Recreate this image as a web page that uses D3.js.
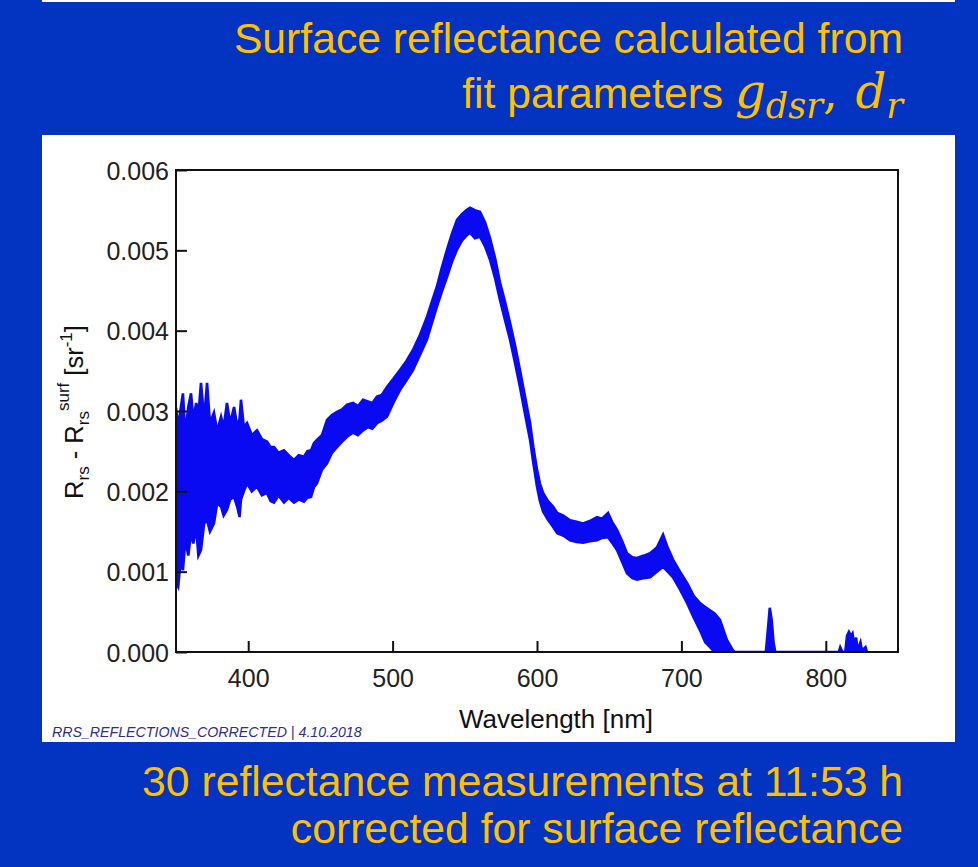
<!DOCTYPE html>
<html>
<head>
<meta charset="utf-8">
<script src="https://cdn.jsdelivr.net/npm/d3@7"></script>
<style>
  body { margin: 0; background: #0233c1; }
  svg { display: block; }
</style>
</head>
<body>
<svg id="chart" width="978" height="867"></svg>
<script>
// wavelength samples [nm] and the upper / lower envelope of the 30 spectra [sr^-1]
var wavelengths = [350, 351.5, 353, 354.8, 356.5, 358.5, 360.4, 362, 364, 365.5, 367.3, 369.5, 371.5, 373.5,
  376.3, 378.5, 381.2, 383, 385.3, 387.5, 390.2, 392.5, 394, 395, 397, 399.2, 402.5, 406.1, 409.5, 413,
  415.5, 417.9, 421, 424.8, 428, 431.7, 435, 438.6, 441, 443.5, 445.5, 447.6, 451.1, 454.6, 458, 461.5,
  465, 468.5, 472.6, 476, 479.5, 483, 486, 489.2, 492.5, 496.1, 500.5, 505.1, 509.5, 514.1, 519, 523.8,
  527, 530.7, 534, 537.7, 541, 544.6, 548, 551, 553.6, 557, 560.5, 564, 567.5, 571, 574.4, 578, 581.3,
  585, 588.2, 591.5, 595.2, 597.5, 600, 602, 604.2, 607.5, 611.1, 614, 618, 622.9, 627.5, 631.9, 636.5,
  641.6, 645, 649.2, 652, 655.4, 659, 662.3, 666, 669.3, 674, 678.3, 683, 687.3, 690.5, 694.2, 699,
  703.9, 708.5, 712.9, 716.5, 719.8, 723, 726.7, 731.5, 735.7, 737, 758.5, 760, 761.2, 762.5, 763.8,
  765, 809, 810, 811.5, 813.5, 814.7, 816, 817.5, 818.5, 819.8, 821, 822, 824, 825, 827.5, 828.5];

var upperValues = [0.00304, 0.00280, 0.00300, 0.00322, 0.00270, 0.00305, 0.00322, 0.00290, 0.00310, 0.00295,
  0.00335, 0.00290, 0.00335, 0.00285, 0.00298, 0.00275, 0.00293, 0.00280, 0.00310, 0.00285, 0.00305,
  0.00280, 0.00290, 0.00314, 0.00280, 0.00285, 0.00270, 0.00276, 0.00265, 0.00262, 0.00255, 0.00255,
  0.00248, 0.00251, 0.00245, 0.00239, 0.00245, 0.00243, 0.00250, 0.00251, 0.00260, 0.00264, 0.00270,
  0.00289, 0.00295, 0.00299, 0.00302, 0.00308, 0.00310, 0.00306, 0.00314, 0.00312, 0.00310, 0.00318,
  0.00320, 0.00330, 0.00340, 0.00351, 0.00362, 0.00376, 0.00395, 0.00417, 0.00435, 0.00455, 0.00478,
  0.00501, 0.00520, 0.00538, 0.00545, 0.00550, 0.00553, 0.00550, 0.00548, 0.00535, 0.00515, 0.00490,
  0.00460, 0.00435, 0.00410, 0.00380, 0.00351, 0.00320, 0.00285, 0.00255, 0.00227, 0.00210, 0.00198,
  0.00188, 0.00181, 0.00173, 0.00170, 0.00164, 0.00162, 0.00160, 0.00163, 0.00168, 0.00166, 0.00173,
  0.00162, 0.00152, 0.00138, 0.00123, 0.00118, 0.00117, 0.00120, 0.00123, 0.00130, 0.00146, 0.00130,
  0.00115, 0.00100, 0.00086, 0.00070, 0.00061, 0.00056, 0.00052, 0.00048, 0.00040, 0.00015, 0.00002,
  0, 0, 0.00030, 0.00055, 0.00040, 0.00012, 0, 0, 0.00006, 0, 0, 0.00020, 0.00025, 0.00020, 0.00023,
  0.00008, 0.00018, 0.00002, 0.00012, 0.00002, 0.00006, 0];

var lowerValues = [0.00086, 0.00081, 0.00110, 0.00102, 0.00140, 0.00120, 0.00148, 0.00135, 0.00155, 0.00120,
  0.00127, 0.00160, 0.00164, 0.00150, 0.00160, 0.00185, 0.00181, 0.00170, 0.00177, 0.00190, 0.00193,
  0.00180, 0.00168, 0.00190, 0.00200, 0.00210, 0.00200, 0.00206, 0.00195, 0.00198, 0.00188, 0.00186,
  0.00195, 0.00186, 0.00192, 0.00186, 0.00190, 0.00187, 0.00192, 0.00193, 0.00205, 0.00210, 0.00227,
  0.00235, 0.00248, 0.00255, 0.00262, 0.00268, 0.00273, 0.00270, 0.00276, 0.00280, 0.00278, 0.00285,
  0.00288, 0.00293, 0.00310, 0.00326, 0.00338, 0.00351, 0.00370, 0.00389, 0.00408, 0.00430, 0.00448,
  0.00467, 0.00485, 0.00501, 0.00512, 0.00518, 0.00522, 0.00515, 0.00517, 0.00505, 0.00488, 0.00465,
  0.00438, 0.00412, 0.00389, 0.00358, 0.00330, 0.00298, 0.00264, 0.00235, 0.00206, 0.00188, 0.00175,
  0.00165, 0.00156, 0.00148, 0.00145, 0.00139, 0.00137, 0.00136, 0.00138, 0.00139, 0.00142, 0.00143,
  0.00136, 0.00127, 0.00112, 0.00098, 0.00092, 0.00090, 0.00092, 0.00093, 0.00100, 0.00106, 0.00100,
  0.00093, 0.00078, 0.00061, 0.00043, 0.00027, 0.00012, 0.00006, 0, 0, 0, 0,
  0, 0, 0, 0, 0, 0, 0, 0, 0, 0, 0, 0, 0, 0, 0,
  0, 0, 0, 0, 0, 0, 0];

var xTicks = [400, 500, 600, 700, 800];
var yTicks = [0, 0.001, 0.002, 0.003, 0.004, 0.005, 0.006];

var spectra = wavelengths.map(function (w, i) {
  return { wl: w, hi: upperValues[i], lo: lowerValues[i] };
});

var svg = d3.select("#chart");
var gold = "#ffc000";
var sans = "'Liberation Sans', Arial, sans-serif";
var mathFont = "'DejaVu Serif', serif";

var dimensions = {
  width: 978,
  height: 867,
  margin: { top: 170, right: 80, bottom: 215, left: 176 },
};
dimensions.boundedWidth = dimensions.width - dimensions.margin.left - dimensions.margin.right;
dimensions.boundedHeight = dimensions.height - dimensions.margin.top - dimensions.margin.bottom;

// white strip at the top and the white chart panel
svg.append("rect").attr("x", 42).attr("y", 0).attr("width", 913).attr("height", 2).attr("fill", "#fff");
svg.append("rect").attr("x", 42).attr("y", 135).attr("width", 913).attr("height", 607).attr("fill", "#fff");

// titles
svg.append("text")
  .attr("x", 903).attr("y", 53)
  .attr("text-anchor", "end")
  .style("font", "42.7px " + sans)
  .attr("fill", gold)
  .text("Surface reflectance calculated from");

var sub = svg.append("text")
  .attr("x", 903).attr("y", 108)
  .attr("text-anchor", "end")
  .style("font", "42.7px " + sans)
  .attr("fill", gold);
sub.append("tspan").text("fit parameters ");
sub.append("tspan").style("font", "italic 48px " + mathFont).text("g");
sub.append("tspan").style("font", "italic 35px " + mathFont).attr("dy", 10).text("dsr");
sub.append("tspan").style("font", "46px " + mathFont).attr("dy", -10).text(",");
sub.append("tspan").style("font", "italic 48px " + mathFont).attr("dx", 18).text("d");
sub.append("tspan").style("font", "italic 35px " + mathFont).attr("dy", 10).text("r");

svg.append("text")
  .attr("x", 903).attr("y", 796)
  .attr("text-anchor", "end")
  .style("font", "42.7px " + sans)
  .attr("fill", gold)
  .text("30 reflectance measurements at 11:53 h");

svg.append("text")
  .attr("x", 903).attr("y", 843)
  .attr("text-anchor", "end")
  .style("font", "42.7px " + sans)
  .attr("fill", gold)
  .text("corrected for surface reflectance");

// scales
var xScale = d3.scaleLinear().domain([350, 850]).range([0, dimensions.boundedWidth]);
var yScale = d3.scaleLinear().domain([0, 0.006]).range([dimensions.boundedHeight, 0]);

var bounds = svg.append("g")
  .attr("transform", "translate(" + dimensions.margin.left + "," + dimensions.margin.top + ")");

// keep the band stroke from bleeding over the x axis line
bounds.append("clipPath").attr("id", "plotClip")
  .append("rect")
  .attr("x", 0).attr("y", 0)
  .attr("width", dimensions.boundedWidth).attr("height", dimensions.boundedHeight - 1);

// band of the 30 spectra
var band = d3.area()
  .x(function (d) { return xScale(d.wl); })
  .y0(function (d) { return yScale(d.lo); })
  .y1(function (d) { return yScale(d.hi); });

bounds.append("path")
  .datum(spectra)
  .attr("clip-path", "url(#plotClip)")
  .attr("d", band)
  .attr("fill", "#0a0af2")
  .attr("stroke", "#0a0af2")
  .attr("stroke-width", 2.6)
  .attr("stroke-linejoin", "miter");

// axes, ticks pointing inwards
var xAxis = d3.axisBottom(xScale).tickValues(xTicks).tickSize(-11).tickSizeOuter(0).tickPadding(17);
var yAxis = d3.axisLeft(yScale).tickValues(yTicks).tickSize(-11).tickSizeOuter(0).tickPadding(7)
  .tickFormat(d3.format(".3f"));

var gx = bounds.append("g")
  .attr("transform", "translate(0," + dimensions.boundedHeight + ")")
  .call(xAxis);
var gy = bounds.append("g").call(yAxis);

[gx, gy].forEach(function (g) {
  g.select(".domain").remove();
  g.selectAll(".tick line").attr("stroke", "#111").attr("stroke-width", 2);
  g.selectAll(".tick text")
    .attr("fill", "#222")
    .style("font", "25px " + sans);
});
gy.selectAll(".tick text").attr("dy", "0.36em");

// frame
bounds.append("rect")
  .attr("x", 0).attr("y", 0)
  .attr("width", dimensions.boundedWidth).attr("height", dimensions.boundedHeight)
  .attr("fill", "none").attr("stroke", "#111").attr("stroke-width", 2);

// axis labels
svg.append("text")
  .attr("x", 556).attr("y", 728)
  .attr("text-anchor", "middle")
  .attr("fill", "#111")
  .style("font", "26px " + sans)
  .text("Wavelength [nm]");

var yLabel = svg.append("text")
  .attr("transform", "translate(83,412) rotate(-90)")
  .attr("text-anchor", "middle")
  .attr("fill", "#111")
  .style("font", "25.5px " + sans);
yLabel.append("tspan").text("R");
yLabel.append("tspan").style("font-size", "17px").attr("dy", 6).text("rs");
yLabel.append("tspan").attr("dy", -6).text(" - R");
yLabel.append("tspan").style("font-size", "17px").attr("dy", 6).text("rs");
yLabel.append("tspan").style("font-size", "17px").attr("dy", -20).text("surf");
yLabel.append("tspan").attr("dy", 14).text(" [sr");
yLabel.append("tspan").style("font-size", "17px").attr("dy", -11).text("-1");
yLabel.append("tspan").attr("dy", 11).text("]");

// footnote
svg.append("text")
  .attr("x", 52).attr("y", 737)
  .attr("fill", "#2a2f8f")
  .style("font", "italic 14.2px " + sans)
  .text("RRS_REFLECTIONS_CORRECTED | 4.10.2018");
</script>
</body>
</html>
